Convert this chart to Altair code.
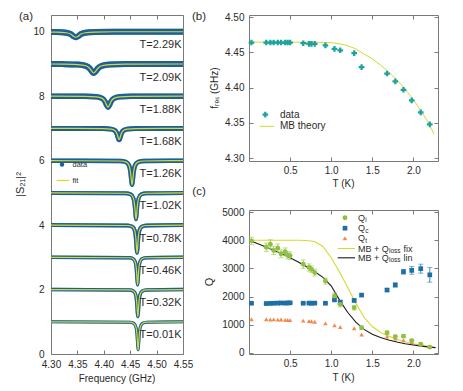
import altair as alt
import pandas as pd

# ======================= DATA =======================
# (a) |S21|^2 spectra (offset traces), fit curve points
A_TEMPS = ["2.29", "2.09", "1.88", "1.68", "1.26", "1.02", "0.78", "0.46", "0.32", "0.01"]
A_BASE = [10, 9, 8, 7, 6, 5, 4, 3, 2, 1]
A_FREQ = [
    [4.30, 4.311, 4.329, 4.338, 4.3425, 4.347, 4.3515, 4.356, 4.365, 4.383, 4.419, 4.55],
    [4.30, 4.321, 4.351, 4.366, 4.3735, 4.3773, 4.381, 4.3848, 4.3885, 4.396, 4.411, 4.441, 4.55],
    [4.30, 4.364, 4.386, 4.397, 4.4025, 4.4053, 4.408, 4.4108, 4.4135, 4.419, 4.430, 4.452, 4.55],
    [4.30, 4.3986, 4.4138, 4.4214, 4.4252, 4.4271, 4.429, 4.4309, 4.4328, 4.4366, 4.4442, 4.4594, 4.55],
    [4.30, 4.4311, 4.4423, 4.4479, 4.4507, 4.4521, 4.4535, 4.4549, 4.4563, 4.4591, 4.4647, 4.4759, 4.55],
    [4.30, 4.441, 4.451, 4.456, 4.4585, 4.4598, 4.461, 4.4623, 4.4635, 4.466, 4.471, 4.481, 4.55],
    [4.30, 4.4454, 4.4542, 4.4586, 4.4608, 4.4619, 4.463, 4.4641, 4.4652, 4.4674, 4.4718, 4.4806, 4.55],
    [4.30, 4.448, 4.456, 4.460, 4.462, 4.463, 4.464, 4.465, 4.466, 4.468, 4.472, 4.480, 4.55],
    [4.30, 4.4485, 4.4565, 4.4605, 4.4625, 4.4635, 4.4645, 4.4655, 4.4665, 4.4685, 4.4725, 4.4805, 4.55],
    [4.30, 4.449, 4.457, 4.461, 4.463, 4.464, 4.465, 4.466, 4.467, 4.469, 4.473, 4.481, 4.55],
]
A_S21 = [
    [9.99, 9.99, 9.97, 9.92, 9.86, 9.83, 9.86, 9.92, 9.97, 9.99, 10.0, 10.0],
    [9.0, 8.996, 8.983, 8.944, 8.86, 8.776, 8.72, 8.776, 8.86, 8.944, 8.983, 8.996, 9.0],
    [8.0, 7.995, 7.98, 7.932, 7.83, 7.728, 7.66, 7.728, 7.83, 7.932, 7.98, 7.995, 8.0],
    [7.0, 6.995, 6.979, 6.93, 6.825, 6.72, 6.65, 6.72, 6.825, 6.93, 6.979, 6.995, 7.0],
    [6.0, 5.989, 5.956, 5.85, 5.625, 5.4, 5.25, 5.4, 5.625, 5.85, 5.956, 5.989, 6.0],
    [5.0, 4.988, 4.952, 4.836, 4.59, 4.344, 4.18, 4.344, 4.59, 4.836, 4.952, 4.988, 5.0],
    [4.0, 3.987, 3.949, 3.828, 3.57, 3.312, 3.14, 3.312, 3.57, 3.828, 3.949, 3.987, 4.0],
    [3.0, 2.987, 2.95, 2.83, 2.575, 2.32, 2.15, 2.32, 2.575, 2.83, 2.95, 2.987, 3.0],
    [2.0, 1.987, 1.95, 1.832, 1.58, 1.328, 1.16, 1.328, 1.58, 1.832, 1.95, 1.987, 2.0],
    [1.0, 0.987, 0.949, 0.826, 0.565, 0.304, 0.13, 0.304, 0.565, 0.826, 0.949, 0.987, 1.0],
]

# (b) resonance frequency vs temperature
B_T = [0.03, 0.21, 0.26, 0.30, 0.35, 0.39, 0.44, 0.47, 0.50, 0.66, 0.73, 0.76,
       0.80, 0.93, 1.04, 1.11, 1.28, 1.37, 1.68, 1.78, 1.88, 1.98, 2.09, 2.20]
B_FRES = [4.464, 4.464, 4.464, 4.464, 4.464, 4.464, 4.464, 4.464, 4.464, 4.463, 4.462, 4.462,
          4.462, 4.460, 4.455, 4.453, 4.449, 4.429, 4.420, 4.409, 4.397, 4.382, 4.365, 4.348]
MB_T = [0.02, 0.2, 0.4, 0.6, 0.8, 0.9, 1.0, 1.1, 1.2, 1.3, 1.4, 1.5, 1.6, 1.7, 1.8, 1.9, 2.0, 2.1, 2.2, 2.25]
MB_FRES = [4.4645, 4.4645, 4.4645, 4.4645, 4.4645, 4.4643, 4.4638, 4.4622, 4.4596, 4.4550, 4.4477,
           4.4410, 4.4320, 4.4220, 4.4110, 4.3980, 4.3830, 4.3660, 4.3470, 4.3340]

# (c) quality factors vs temperature
QI = [3980, 3750, 3860, 3640, 3720, 3520, 3590, 3470, 3450, 3150, 3030, 2970,
      2850, 2550, 2020, 1720, 1600, 890, 710, 570, 590, 430, 300, 200]
QI_ERR = [130, 150, 160, 150, 150, 140, 140, 130, 130, 150, 130, 120,
          120, 110, 110, 90, 80, 60, 60, 50, 60, 50, 40, 30]
QC = [1760, 1750, 1755, 1760, 1765, 1770, 1765, 1770, 1775, 1760, 1765, 1760,
      1765, 1760, 1880, 1800, 1860, 2050, 2230, 2410, 2880, 2930, 2990, 2770]
QC_ERR = [25, 25, 25, 25, 25, 25, 25, 25, 25, 25, 25, 25,
          25, 25, 60, 60, 50, 40, 50, 70, 80, 140, 160, 260]
QT = [1190, 1190, 1180, 1185, 1175, 1180, 1170, 1165, 1160, 1140, 1130, 1120,
      1100, 1045, 975, 915, 870, 650, 570, 500, 440, 380, 300, 210]
MODEL_T = [0.0, 0.2, 0.4, 0.6, 0.7, 0.8, 0.9, 1.0, 1.1, 1.2, 1.3, 1.4, 1.5, 1.6,
           1.7, 1.8, 1.9, 2.0, 2.1, 2.2, 2.27]
FIX_Q = [4000, 4000, 4000, 4000, 3995, 3960, 3780, 3380, 2880, 2330, 1760, 1260, 930, 730,
         590, 480, 390, 320, 260, 215, 185]
LIN_Q = [4000, 3770, 3520, 3230, 3060, 2880, 2680, 2380, 1880, 1440, 1090, 830, 660, 540,
         450, 380, 320, 275, 235, 200, 180]

# tick values
A_XTICKS = [4.30, 4.35, 4.40, 4.45, 4.50, 4.55]
A_YTICKS = [0, 2, 4, 6, 8, 10]
BC_XTICKS = [0.5, 1.0, 1.5, 2.0]
B_YTICKS = [4.30, 4.35, 4.40, 4.45, 4.50]
C_YTICKS = [0, 1000, 2000, 3000, 4000, 5000]

# ======================= STYLE =======================
FONT = "Liberation Sans"
TXT = "#2b2b2b"
FRAME = "#7a7a7a"
A_LIGHT = "#5fb0dc"
A_DARK = "#1e5f9a"
YEL = "#d6da2e"
TEAL = "#1ca39e"
GREEN = "#8fc042"
GREEN_ERR = "#a9cf6a"
BLUE = "#1f6ea6"
BLUE_ERR = "#3f8cc0"
ORANGE = "#f5884c"
A_OUTER_W = [6, 6, 5.5, 5, 4.5, 4, 4, 3.5, 3.5, 3]
A_INNER_W = [2.5, 2.5, 2.2, 2, 1.8, 1.6, 1.5, 1.4, 1.3, 0.8]

A_W, A_H = 132, 339
B_W, B_H = 189, 146
C_W, C_H = 189, 144

ONE = alt.Data(values=[{"k": 1}])


def txt(text, x, y, size=10, angle=0, align="center", baseline="middle", color=TXT):
    return alt.Chart(ONE).mark_text(text=text, font=FONT, fontSize=size, angle=angle, align=align,
                                    baseline=baseline, color=color).encode(x=alt.value(x), y=alt.value(y))


def seg(x1, x2, y, color, width=1.2):
    return alt.Chart(ONE).mark_rule(color=color, strokeWidth=width).encode(
        x=alt.value(x1), x2=alt.value(x2), y=alt.value(y))


def sym(shape, x, y, color, size):
    return alt.Chart(ONE).mark_point(shape=shape, filled=True, color=color, size=size, opacity=1).encode(
        x=alt.value(x), y=alt.value(y))


def x_axes(values, fmt, h, pad=4):
    lab = alt.Axis(orient="bottom", values=values, format=fmt, ticks=False, domain=False, grid=False,
                   labelFont=FONT, labelFontSize=10, labelColor=TXT, labelPadding=pad,
                   labelFlush=False, labelOverlap=False, title=None)
    t1 = alt.Axis(orient="top", offset=-h, values=values, labels=False, ticks=True, tickSize=4,
                  tickColor=FRAME, domain=False, grid=False, title=None)
    t2 = alt.Axis(orient="bottom", offset=-h, values=values, labels=False, ticks=True, tickSize=4,
                  tickColor=FRAME, domain=False, grid=False, title=None)
    return lab, t1, t2


def y_axes(values, fmt, w, pad=5):
    lab = alt.Axis(orient="left", values=values, format=fmt, ticks=False, domain=False, grid=False,
                   labelFont=FONT, labelFontSize=10, labelColor=TXT, labelPadding=pad,
                   labelFlush=False, labelOverlap=False, title=None)
    t1 = alt.Axis(orient="right", offset=-w, values=values, labels=False, ticks=True, tickSize=4,
                  tickColor=FRAME, domain=False, grid=False, title=None)
    t2 = alt.Axis(orient="left", offset=-w, values=values, labels=False, ticks=True, tickSize=4,
                  tickColor=FRAME, domain=False, grid=False, title=None)
    return lab, t1, t2


# ======================= PANEL (a) =======================
rows = []
for t, fs, ss in zip(A_TEMPS, A_FREQ, A_S21):
    for f, s in zip(fs, ss):
        rows.append({"T": t, "f": f, "s": s})
df_a = pd.DataFrame(rows)
df_lab = pd.DataFrame({"T": A_TEMPS, "base": A_BASE})

xs_a = alt.Scale(domain=[4.30, 4.55], nice=False, zero=False)
ys_a = alt.Scale(domain=[0, 10.52], nice=False, zero=False)
axl, axt1, axt2 = x_axes(A_XTICKS, ".2f", A_H, pad=5)
ayl, ayt1, ayt2 = y_axes(A_YTICKS, "d", A_W, pad=7)

band = alt.Chart(df_a).mark_line(interpolate="monotone", color=A_LIGHT).encode(
    x=alt.X("f:Q", scale=xs_a, axis=axl), y=alt.Y("s:Q", scale=ys_a, axis=ayl), detail="T:N",
    strokeWidth=alt.StrokeWidth("T:O", scale=alt.Scale(type="ordinal", domain=A_TEMPS, range=A_OUTER_W),
                                legend=None))
core = alt.Chart(df_a).mark_line(interpolate="monotone", color=A_DARK).encode(
    x=alt.X("f:Q", scale=xs_a, axis=axt1), y=alt.Y("s:Q", scale=ys_a, axis=ayt1), detail="T:N",
    strokeWidth=alt.StrokeWidth("T:O", scale=alt.Scale(type="ordinal", domain=A_TEMPS, range=A_INNER_W),
                                legend=None))
fit = alt.Chart(df_a).mark_line(interpolate="monotone", color=YEL, strokeWidth=1.2).encode(
    x=alt.X("f:Q", scale=xs_a, axis=axt2), y=alt.Y("s:Q", scale=ys_a, axis=ayt2), detail="T:N")
tlabels = alt.Chart(df_lab).transform_calculate(
    lab='"T=" + datum.T + "K"', ly="datum.base - 0.42").mark_text(
    align="right", baseline="middle", font=FONT, fontSize=11, color=TXT).encode(
    x=alt.value(A_W - 1.5), y=alt.Y("ly:Q", scale=ys_a, axis=None), text="lab:N")

panel_a = alt.layer(
    band, core, fit, tlabels,
    sym("circle", 11, 149.5, A_DARK, 20), txt("data", 21.5, 149.5, size=7.5, align="left"),
    seg(5.7, 18.3, 165.5, YEL, 1.2), txt("fit", 21.5, 165.5, size=7.5, align="left"),
    txt("|S\u2082\u2081|\u00b2", -30, A_H / 2, size=11, angle=270),
    txt("Frequency (GHz)", A_W / 2, A_H + 25, size=10),
    txt("(a)", -25, 2, size=11.5),
    alt.Chart(ONE).mark_point(opacity=0, size=1).encode(x=alt.value(-42), y=alt.value(-6)),
).properties(width=A_W, height=A_H).resolve_axis(x="independent", y="independent")

# ======================= PANEL (b) =======================
df_b = pd.DataFrame({"T": B_T, "f": B_FRES})
df_mb = pd.DataFrame({"T": MB_T, "f": MB_FRES})
xs_b = alt.Scale(domain=[0, 2.3], nice=False, zero=False)
ys_b = alt.Scale(domain=[4.296, 4.503], nice=False, zero=False)
bxl, bxt1, bxt2 = x_axes(BC_XTICKS, ".1f", B_H)
byl, byt1, byt2 = y_axes(B_YTICKS, ".2f", B_W)

mb_line = alt.Chart(df_mb).mark_line(color=YEL, strokeWidth=1).encode(
    x=alt.X("T:Q", scale=xs_b, axis=bxt1), y=alt.Y("f:Q", scale=ys_b, axis=byt1))
b_ticks = alt.Chart(df_b).mark_point(opacity=0).encode(
    x=alt.X("T:Q", scale=xs_b, axis=bxt2), y=alt.Y("f:Q", scale=ys_b, axis=byt2))
b_pts = alt.Chart(df_b).mark_point(shape="cross", filled=True, size=32, color=TEAL, opacity=1).encode(
    x=alt.X("T:Q", scale=xs_b, axis=bxl), y=alt.Y("f:Q", scale=ys_b, axis=byl))

panel_b = alt.layer(
    mb_line, b_ticks, b_pts,
    sym("cross", 16.3, 99.7, TEAL, 32), txt("data", 31, 99.7, size=10, align="left"),
    seg(10.3, 25.3, 111.3, YEL, 1), txt("MB theory", 31, 111.3, size=10, align="left"),
    txt("f\u1d63\u2091\u209b (GHz)", -34, B_H / 2, size=10, angle=270),
    txt("T (K)", B_W / 2, B_H + 23, size=10),
    txt("(b)", -50, 2, size=11.5),
).properties(width=B_W, height=B_H).resolve_axis(x="independent", y="independent")

# ======================= PANEL (c) =======================
df_c = pd.DataFrame({"T": B_T, "qi": QI, "qi_err": QI_ERR, "qc": QC, "qc_err": QC_ERR, "qt": QT})
df_m = pd.DataFrame({"T": MODEL_T, "fix": FIX_Q, "lin": LIN_Q})
xs_c = alt.Scale(domain=[0, 2.3], nice=False, zero=False)
ys_c = alt.Scale(domain=[-46, 5078], nice=False, zero=False)
cxl, cxt1, cxt2 = x_axes(BC_XTICKS, ".1f", C_H)
cyl, cyt1, cyt2 = y_axes(C_YTICKS, "d", C_W)
cX = alt.X("T:Q", scale=xs_c, axis=None)

base_c = alt.Chart(df_c).transform_calculate(
    qi_lo="datum.qi - datum.qi_err", qi_hi="datum.qi + datum.qi_err",
    qc_lo="datum.qc - datum.qc_err", qc_hi="datum.qc + datum.qc_err")

fix_line = alt.Chart(df_m).mark_line(color=YEL, strokeWidth=1.1).encode(
    x=alt.X("T:Q", scale=xs_c, axis=cxt1), y=alt.Y("fix:Q", scale=ys_c, axis=cyt1))
lin_line = alt.Chart(df_m).mark_line(color="#1a1a1a", strokeWidth=1.1).encode(
    x=alt.X("T:Q", scale=xs_c, axis=cxt2), y=alt.Y("lin:Q", scale=ys_c, axis=cyt2))

layers_c = [fix_line, lin_line]
for lo, hi, col in [("qi_lo", "qi_hi", GREEN_ERR), ("qc_lo", "qc_hi", BLUE_ERR)]:
    layers_c.append(base_c.mark_rule(color=col, strokeWidth=1).encode(
        x=cX, y=alt.Y(f"{lo}:Q", scale=ys_c, axis=None), y2=f"{hi}:Q"))
    for end in (lo, hi):
        layers_c.append(base_c.mark_tick(orient="horizontal", color=col, size=5, thickness=1).encode(
            x=cX, y=alt.Y(f"{end}:Q", scale=ys_c, axis=None)))

layers_c.append(base_c.mark_point(shape="triangle-up", filled=True, size=20, color=ORANGE, opacity=1).encode(
    x=cX, y=alt.Y("qt:Q", scale=ys_c, axis=None)))
layers_c.append(base_c.mark_point(shape="square", filled=True, size=22, color=BLUE, opacity=1).encode(
    x=cX, y=alt.Y("qc:Q", scale=ys_c, axis=None)))
layers_c.append(base_c.mark_point(shape="circle", filled=True, size=24, color=GREEN, opacity=1).encode(
    x=alt.X("T:Q", scale=xs_c, axis=cxl), y=alt.Y("qi:Q", scale=ys_c, axis=cyl)))

LX, TX, SX = 96, 109, 116.2
ly = [7.8, 18.2, 28.2, 38.5, 47.8]
legend_c = [
    sym("circle", LX, ly[0], GREEN, 24), txt("Q", TX, ly[0], 9, align="left"), txt("i", SX, ly[0] + 2.5, 6.5, align="left"),
    sym("square", LX, ly[1], BLUE, 22), txt("Q", TX, ly[1], 9, align="left"), txt("c", SX, ly[1] + 2.5, 6.5, align="left"),
    sym("triangle-up", LX, ly[2], ORANGE, 22), txt("Q", TX, ly[2], 9, align="left"), txt("t", SX, ly[2] + 2.5, 6.5, align="left"),
    seg(88.7, 106, ly[3], YEL, 1.1), txt("MB + Q", TX, ly[3], 9, align="left"),
    txt("loss", 140, ly[3] + 2.5, 6.5, align="left"), txt("fix", 154.5, ly[3], 9, align="left"),
    seg(88.7, 106, ly[4], "#1a1a1a", 1.1), txt("MB + Q", TX, ly[4], 9, align="left"),
    txt("loss", 140, ly[4] + 2.5, 6.5, align="left"), txt("lin", 154.5, ly[4], 9, align="left"),
]

panel_c = alt.layer(
    *layers_c, *legend_c,
    txt("Q", -39, C_H / 2, size=11, angle=270),
    txt("T (K)", C_W / 2, C_H + 24, size=10),
    txt("(c)", -50, -18, size=11.5),
).properties(width=C_W, height=C_H).resolve_axis(x="independent", y="independent")

right = alt.vconcat(panel_b, panel_c, spacing=49, bounds="flush")
chart = alt.hconcat(panel_a, right, spacing=66, bounds="flush").properties(
    padding={"left": 0, "top": 0, "right": 5, "bottom": 5}, background="white"
).configure(font=FONT).configure_view(stroke=FRAME, strokeWidth=1)

chart.save("out.html", embed_options={"renderer": "svg", "actions": False})
